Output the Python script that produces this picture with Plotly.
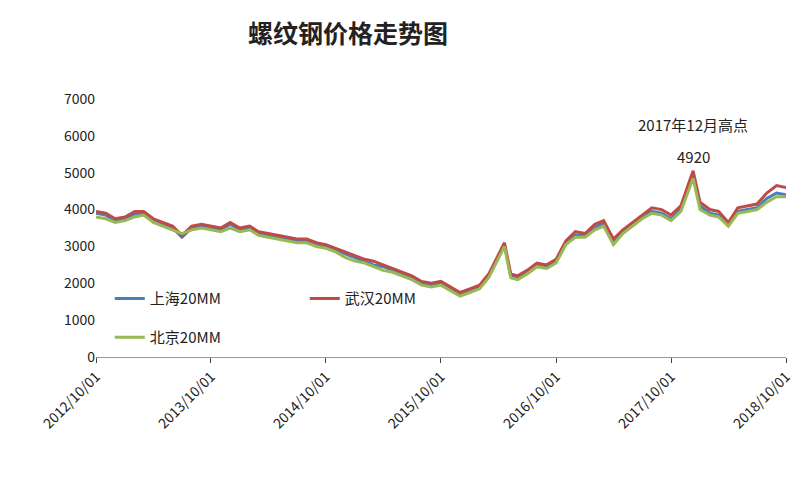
import plotly.graph_objects as go

dates = ["2012-10-01","2012-11-01","2012-12-01","2013-01-01","2013-02-01","2013-03-01","2013-04-01","2013-05-01","2013-06-01","2013-07-01","2013-08-01","2013-09-01","2013-10-01","2013-11-01","2013-12-01",
"2014-01-01","2014-02-01","2014-03-01","2014-04-01","2014-05-01","2014-06-01","2014-07-01","2014-08-01","2014-09-01","2014-10-01","2014-11-01","2014-12-01",
"2015-01-01","2015-02-01","2015-03-01","2015-04-01","2015-05-01","2015-06-01","2015-07-01","2015-08-01","2015-09-01","2015-10-01","2015-11-01","2015-12-01",
"2016-01-01","2016-02-01","2016-03-01","2016-04-01","2016-04-20","2016-05-10","2016-06-01","2016-07-01","2016-08-01","2016-09-01","2016-10-01","2016-11-01","2016-12-01",
"2017-01-01","2017-02-01","2017-03-01","2017-04-01","2017-05-01","2017-06-01","2017-07-01","2017-08-01","2017-09-01","2017-10-01","2017-11-01","2017-12-10","2018-01-01",
"2018-02-01","2018-03-01","2018-04-01","2018-05-01","2018-06-01","2018-07-01","2018-08-01","2018-09-01","2018-10-01"]

shanghai = [3900,3850,3700,3750,3880,3900,3700,3600,3500,3250,3500,3550,3500,3450,3600,
3450,3500,3350,3300,3250,3200,3150,3150,3050,3000,2900,2800,
2700,2600,2500,2450,2350,2250,2150,2000,1950,2000,1850,1700,
1800,1900,2200,2700,3050,2200,2150,2300,2500,2450,2600,3100,3300,
3300,3500,3650,3100,3400,3600,3800,3950,3900,3750,4000,4950,4100,
3900,3850,3600,3950,4000,4050,4300,4450,4400]
wuhan = [3950,3900,3750,3800,3950,3950,3750,3650,3550,3300,3550,3600,3550,3500,3650,
3500,3550,3400,3350,3300,3250,3200,3200,3100,3050,2950,2850,
2750,2650,2600,2500,2400,2300,2200,2050,2000,2050,1900,1750,
1850,1950,2250,2750,3100,2250,2200,2350,2550,2500,2650,3150,3400,
3350,3600,3700,3200,3450,3650,3850,4050,4000,3850,4100,5050,4200,
4000,3950,3650,4050,4100,4150,4450,4650,4600]
beijing = [3800,3750,3650,3700,3800,3850,3650,3550,3450,3350,3450,3500,3450,3400,3500,
3400,3450,3300,3250,3200,3150,3100,3100,3000,2950,2850,2700,
2600,2550,2450,2350,2300,2200,2100,1950,1900,1950,1800,1650,
1750,1850,2150,2650,3000,2150,2100,2250,2450,2400,2550,3050,3250,
3250,3450,3550,3050,3350,3550,3750,3900,3850,3700,3950,4850,4000,
3850,3800,3550,3900,3950,4000,4200,4350,4350]

tickvals = ["2012-10-01","2013-10-01","2014-10-01","2015-10-01","2016-10-01","2017-10-01","2018-10-01"]
ticktext = ["2012/10/01","2013/10/01","2014/10/01","2015/10/01","2016/10/01","2017/10/01","2018/10/01"]

fig = go.Figure()
for name, ys, c, lg in [("上海20MM", shanghai, "#4a7ebb", "legend"), ("武汉20MM", wuhan, "#be4b48", "legend"), ("北京20MM", beijing, "#98b954", "legend2")]:
    fig.add_trace(go.Scatter(x=dates, y=ys, name=name, mode="lines", line=dict(color=c, width=3), legend=lg))

fig.update_layout(
    width=800, height=500, plot_bgcolor="white", paper_bgcolor="white",
    margin=dict(l=88, r=22, t=91, b=151),
    font=dict(family="Noto Sans CJK SC", size=14, color="#222"),
    title=dict(text="<b>螺纹钢价格走势图</b>", x=0.425, xanchor="center", y=0.965, font=dict(size=25)),
    legend=dict(x=0.02, y=0.29, orientation="h", bgcolor="rgba(0,0,0,0)", font=dict(size=15), entrywidth=150),
    legend2=dict(x=0.02, y=0.14, orientation="h", bgcolor="rgba(0,0,0,0)", font=dict(size=15)),
    showlegend=True,
)
fig.update_xaxes(type="date", range=["2012-10-01","2018-10-01"], tickvals=tickvals, ticktext=ticktext,
                 tickangle=-45, showline=True, linecolor="#999", showgrid=False, ticks="outside", tickfont=dict(size=14))
fig.update_yaxes(range=[0, 7000], dtick=1000, showgrid=False, showline=False, zeroline=False,
                 tickfont=dict(size=14))
fig.add_annotation(x="2017-12-10", y=6300, text="2017年12月高点", showarrow=False, font=dict(size=15))
fig.add_annotation(x="2017-12-10", y=5450, text="4920", showarrow=False, font=dict(size=15))
fig.write_html("out.html")
